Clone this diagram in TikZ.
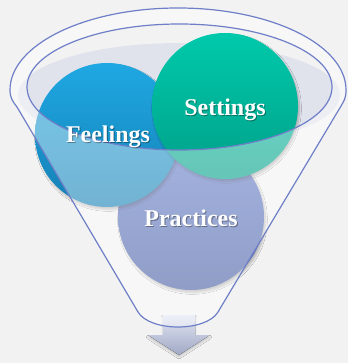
\documentclass[tikz,border=0pt]{standalone}
\usepackage{fontspec}
\setmainfont{Liberation Serif}
\usetikzlibrary{shadows.blur}
\definecolor{bg}{HTML}{F2F2F2}
\definecolor{liquid}{HTML}{E0E3EC}
\definecolor{rim}{HTML}{6E7FC8}
\definecolor{feeltop}{HTML}{1FA8E3}
\definecolor{feelbot}{HTML}{1580B5}
\definecolor{settop}{HTML}{00C9AB}
\definecolor{setbot}{HTML}{00A088}
\definecolor{practop}{HTML}{6880CC}
\definecolor{pracbot}{HTML}{455CA2}
\definecolor{arrtop}{HTML}{E2E6F3}
\definecolor{arrbot}{HTML}{A0A8C4}
\tikzset{
  ball/.style={circle, inner sep=0pt, minimum size=#1, blur shadow={shadow xshift=1.5pt, shadow yshift=-2.5pt, shadow blur steps=6, shadow opacity=25}},
  label/.style={text=white, font=\fontsize{24}{24}\selectfont\bfseries, anchor=base, inner sep=0pt},
  labelshadow/.style={text=black, opacity=0.35, font=\fontsize{24}{24}\selectfont\bfseries, anchor=base, inner sep=0pt},
  rimline/.style={draw=rim, line width=1.2pt},
}
\begin{document}
\begin{tikzpicture}[x=1pt, y=-1pt]
\useasboundingbox (0,0) rectangle (348,363);
\fill[bg] (0,0) rectangle (348,363);
% liquid surface
\fill[liquid] (179,95) ellipse [x radius=161, y radius=52];
% arrow
\fill[top color=arrtop, bottom color=arrbot, blur shadow={shadow xshift=0pt, shadow yshift=-2pt, shadow blur steps=5, shadow opacity=20}]
  (163,315) -- (195,315) -- (195,335) -- (210,335) -- (179,355) -- (148,335) -- (163,335) -- cycle;
% circles
\node[ball=146pt, top color=practop, bottom color=pracbot] (prac) at (191,217) {};
\node[ball=144pt, top color=feeltop, bottom color=feelbot] (feel) at (107,135) {};
\node[ball=146pt, top color=settop, bottom color=setbot] (sett) at (225,106) {};
% funnel front (translucent)
\fill[white, opacity=0.4, even odd rule]
  (10,90) arc[start angle=180, end angle=360, x radius=168, y radius=82]
  .. controls (346,98) and (344,101) .. (341,106)
  -- (218,312) .. controls (206,332) and (150,332) .. (138,312)
  -- (17,107) .. controls (13,102) and (10,98) .. (10,90) -- cycle
  (179.5,87) ellipse [x radius=152.5, y radius=63];
% funnel outlines
\draw[rimline]
  (10,90) arc[start angle=180, end angle=360, x radius=168, y radius=82]
  .. controls (346,98) and (344,101) .. (341,106)
  -- (218,312) .. controls (206,332) and (150,332) .. (138,312)
  -- (17,107) .. controls (13,102) and (10,98) .. (10,90) -- cycle;
\draw[rimline] (179.5,87) ellipse [x radius=152.5, y radius=63];
% labels
\node[labelshadow] (feelS) at (109,144) {Feelings};
\node[label] (feelT) at (108,143) {Feelings};
\node[labelshadow] (settS) at (226,117) {Settings};
\node[label] (settT) at (225,116) {Settings};
\node[labelshadow] (pracS) at (192,227) {Practices};
\node[label] (pracT) at (191,226) {Practices};
\end{tikzpicture}
\end{document}
